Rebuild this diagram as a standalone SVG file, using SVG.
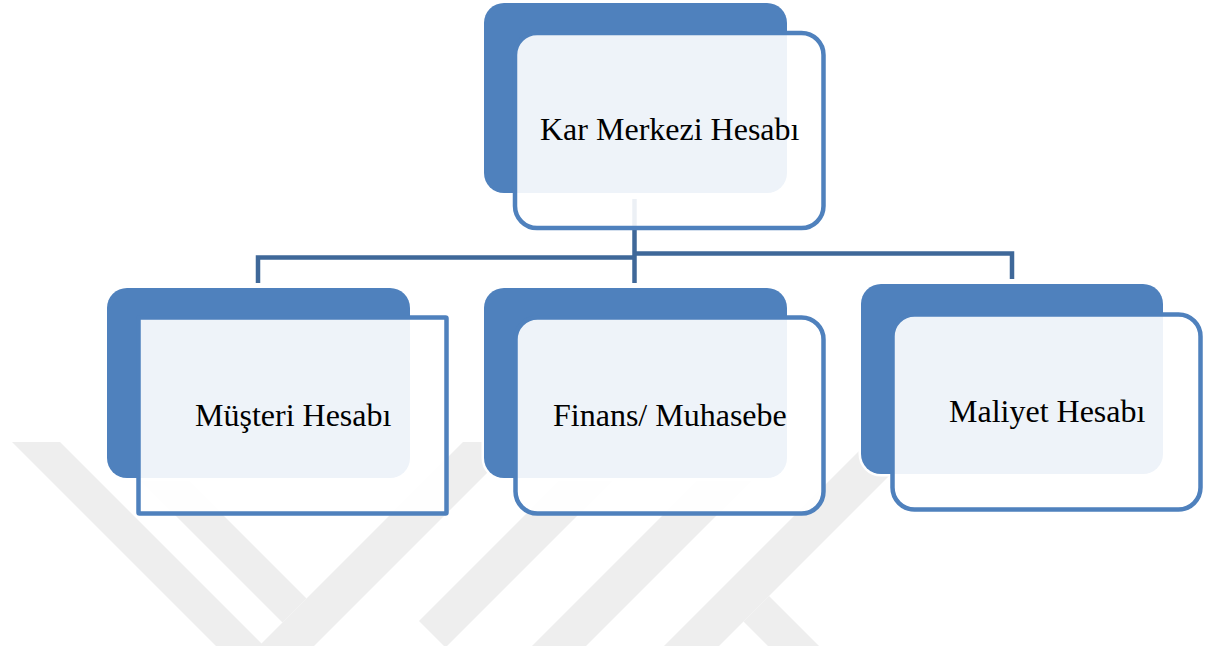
<svg xmlns="http://www.w3.org/2000/svg" width="1216" height="646" viewBox="0 0 1216 646">
<style>
.wm{fill:#eeeeee}
.back{fill:#4f81bd;stroke:#ffffff;stroke-width:5;paint-order:stroke}
.front{fill:#ffffff;fill-opacity:0.9;stroke:#4f81bd;stroke-width:4.5}
.lbl{font-family:"Liberation Serif","Times New Roman",serif;font-size:32px;fill:#000000}
.conn{fill:none;stroke:#3f6899;stroke-width:4.5}
</style>
<rect x="0" y="0" width="1216" height="646" fill="#ffffff"/>
<g id="watermark">
<polygon class="wm" points="12,442 60,442 300,682 252,682"/>
<polygon class="wm" points="130,470 178,470 306.5,598.5 282.5,622.5"/>
<polygon class="wm" points="463,442 518,442 270,690 215,690"/>
<polygon class="wm" points="598,442 651,442 445.5,647.5 419,621"/>
<polygon class="wm" points="736,442 790,442 542,690 488,690"/>
<polygon class="wm" points="868,442 923,442 675,690 620,690"/>
<polygon class="wm" points="743.5,621.5 769,596 863,690 812,690"/>
</g>
<g id="connectors">
<path class="conn" d="M634.5,199 V283"/>
<path class="conn" d="M258,283 V257.5 H634.5"/>
<path class="conn" d="M1012,279 V253.5 H634.5"/>
</g>
<g id="node-kar-merkezi">
<rect class="back" x="484" y="3" width="303" height="190" rx="20"/>
<rect class="front" x="515" y="33" width="308.5" height="195" rx="22"/>
<text class="lbl" x="540" y="140">Kar Merkezi Hesabı</text>
</g>
<g id="node-musteri">
<rect class="back" x="107" y="288" width="303" height="190" rx="20"/>
<rect class="front" x="138.5" y="317.5" width="308" height="196" rx="1"/>
<text class="lbl" x="195" y="426">Müşteri Hesabı</text>
</g>
<g id="node-finans">
<rect class="back" x="484" y="288" width="303" height="190" rx="20"/>
<rect class="front" x="515.5" y="317.5" width="308" height="196" rx="22"/>
<text class="lbl" x="553" y="426">Finans/ Muhasebe</text>
</g>
<g id="node-maliyet">
<rect class="back" x="861" y="284" width="302" height="190" rx="20"/>
<rect class="front" x="892.5" y="314.5" width="308" height="195" rx="22"/>
<text class="lbl" x="949" y="422">Maliyet Hesabı</text>
</g>
</svg>
